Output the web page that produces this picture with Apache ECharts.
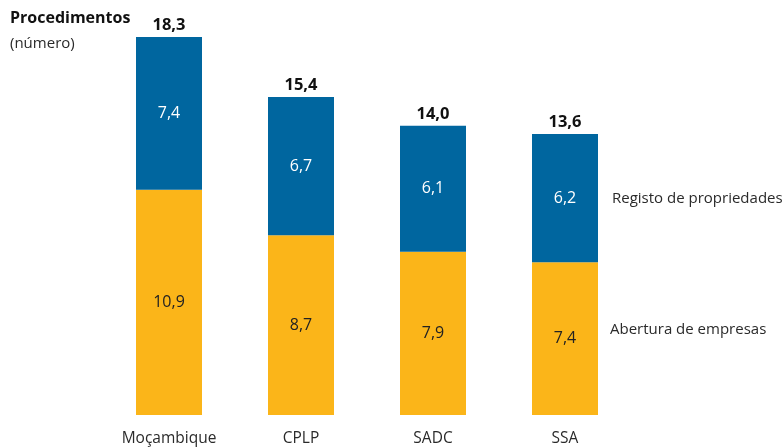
<!DOCTYPE html>
<html>
<head>
<meta charset="utf-8">
<script src="https://cdn.jsdelivr.net/npm/echarts@6/dist/echarts.min.js"></script>
<style>
  html, body { margin: 0; padding: 0; background: #fff; }
  #chart { width: 784px; height: 448px; }
</style>
</head>
<body>
<div id="chart"></div>
<script>
var categories = ['Moçambique', 'CPLP', 'SADC', 'SSA'];
var abertura = [10.9, 8.7, 7.9, 7.4];   // Abertura de empresas
var registo = [7.4, 6.7, 6.1, 6.2];     // Registo de propriedades
var totais = [18.3, 15.4, 14.0, 13.6];

var fonte = '"Open Sans", "Noto Sans", sans-serif';

function fmt(v) {
	return v.toFixed(1).replace('.', ',');
}

var chart = echarts.init(document.getElementById('chart'));

var option = {
	animation: false,
	grid: { left: 103, right: 153, top: 37, bottom: 33 },
	xAxis: {
		type: 'category',
		data: categories,
		axisLine: { show: false },
		axisTick: { show: false },
		axisLabel: { color: '#2a2a2a', fontSize: 15.5, fontFamily: fonte, margin: 16 }
	},
	yAxis: {
		type: 'value',
		min: 0,
		max: 18.3,
		show: false
	},
	series: [
		{
			name: 'Abertura de empresas',
			type: 'bar',
			stack: 'p',
			barWidth: 66,
			data: abertura,
			itemStyle: { color: '#FBB519' },
			label: {
				show: true,
				position: 'inside',
				color: '#222',
				fontSize: 16,
				fontFamily: fonte,
				formatter: function(p) { return fmt(p.value); }
			}
		},
		{
			name: 'Registo de propriedades',
			type: 'bar',
			stack: 'p',
			barWidth: 66,
			data: registo,
			itemStyle: { color: '#00669F' },
			label: {
				show: true,
				position: 'inside',
				color: '#fff',
				fontSize: 16,
				fontFamily: fonte,
				formatter: function(p) { return fmt(p.value); }
			}
		},
		{
			name: 'Total',
			type: 'bar',
			stack: 'p',
			barWidth: 66,
			data: [0, 0, 0, 0],
			itemStyle: { color: 'transparent' },
			label: {
				show: true,
				position: 'top',
				distance: 3,
				color: '#111',
				fontSize: 16.5,
				fontWeight: 'bold',
				fontFamily: fonte,
				formatter: function(p) { return fmt(totais[p.dataIndex]); }
			}
		}
	],
	graphic: [
		{ type: 'text', left: 10, top: 10, style: { text: 'Procedimentos', fontSize: 16, fontWeight: 'bold', fontFamily: fonte, fill: '#111' } },
		{ type: 'text', left: 10, top: 36, style: { text: '(número)', fontSize: 15, fontFamily: fonte, fill: '#2a2a2a' } },
		{ type: 'text', left: 612, top: 191, style: { text: 'Registo de propriedades', fontSize: 15, fontFamily: fonte, fill: '#2a2a2a' } },
		{ type: 'text', left: 610, top: 322, style: { text: 'Abertura de empresas', fontSize: 15, fontFamily: fonte, fill: '#2a2a2a' } }
	]
};

chart.setOption(option);
</script>
</body>
</html>
